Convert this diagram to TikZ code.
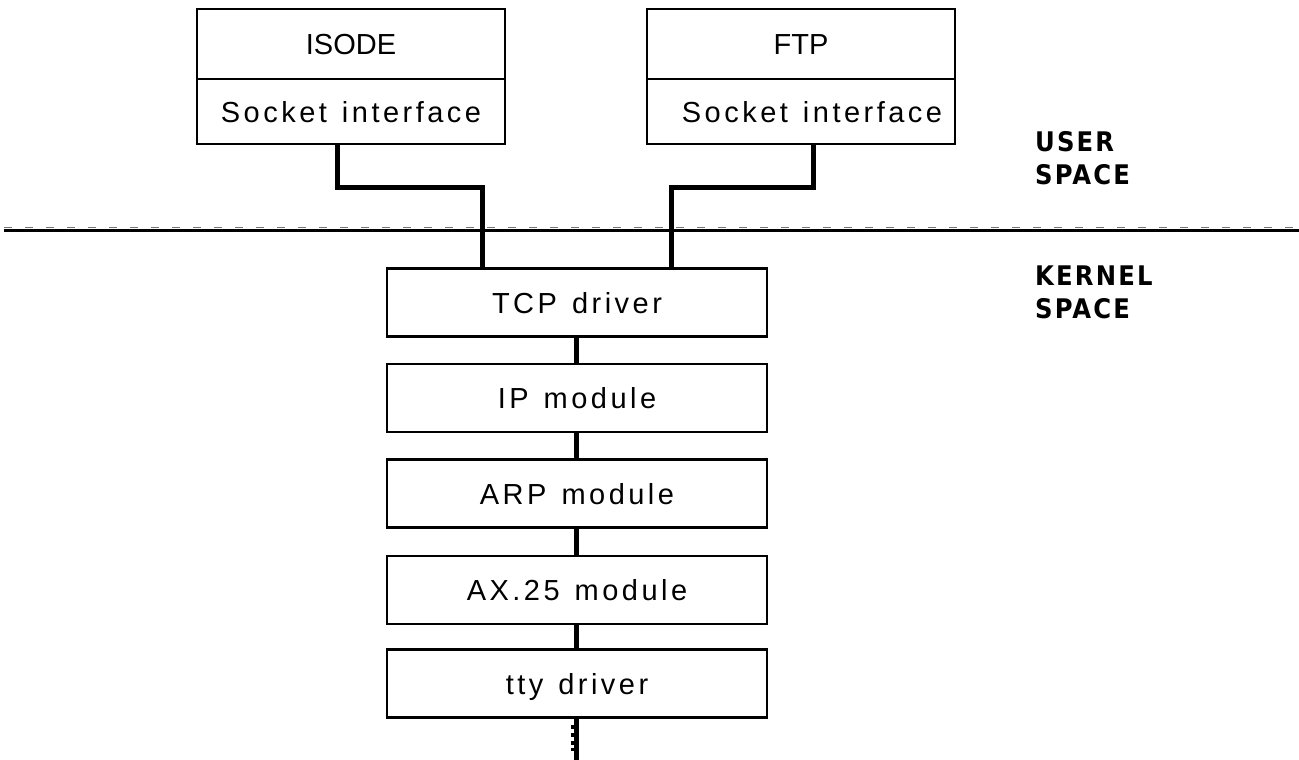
\documentclass[tikz,border=0pt]{standalone}
\usepackage{fontspec}
\setmainfont{Liberation Sans}
\newfontfamily\spacedfont[LetterSpace=12,WordSpace=1.3]{Liberation Sans}
\newfontfamily\labelfont[LetterSpace=8]{DejaVu Sans Condensed}
\begin{document}
\begin{tikzpicture}[x=1pt,y=-1pt,
  modbox/.style={draw=black, line width=2.3pt, rectangle, inner sep=0pt,
    minimum width=380pt, minimum height=68pt, text height=21pt, text depth=0pt,
    font=\spacedfont\fontsize{29}{34}\selectfont},
  apptop/.style={draw=black, line width=2.3pt, rectangle, inner sep=0pt,
    minimum width=308pt, minimum height=70pt, text height=21pt, text depth=0pt,
    font=\fontsize{29}{34}\selectfont},
  appsock/.style={draw=black, line width=2.3pt, rectangle, inner sep=0pt,
    minimum width=308pt, minimum height=65pt, text height=21pt, text depth=0pt,
    font=\spacedfont\fontsize{29}{34}\selectfont},
  conn/.style={draw=black, line width=5pt},
  spacelbl/.style={anchor=north west, align=left, inner sep=0pt,
    font=\labelfont\bfseries\fontsize{27}{33}\selectfont},
  tickmark/.style={fill=black, draw=none}
]
\useasboundingbox (0,0) rectangle (1299,760);

% separator between user and kernel space
\coordinate (sepL) at (4,230);
\coordinate (sepR) at (1299,230);
\coordinate (sepLd) at (4,227.5);
\coordinate (sepRd) at (1299,227.5);
\draw[black, line width=3pt] (sepL) -- (sepR);
\draw[black!55, line width=1.5pt, dash pattern=on 8pt off 13pt] (sepLd) -- (sepRd);

% application boxes
\node[apptop] (isode) at (351,44) {ISODE};
\node[appsock] (isodesock) at (351,111.5) {Socket interface};
\node[apptop] (ftp) at (801,44) {FTP};
\node[appsock] (ftpsock) at (801,111.5) {\hspace*{22pt}Socket interface};

% kernel modules
\node[modbox] (tcp) at (577,302.5) {TCP driver};
\node[modbox] (ip) at (577,398) {IP module};
\node[modbox] (arp) at (577,493.5) {ARP module};
\node[modbox] (ax) at (577,590) {AX.25 module};
\node[modbox] (tty) at (577,683.5) {tty driver};

% connectors
\draw[conn] ([xshift=-14pt]isodesock.south) -- ++(0,42) -| ([xshift=-95pt]tcp.north);
\draw[conn] ([xshift=12pt]ftpsock.south) -- ++(0,42) -| ([xshift=94pt]tcp.north);
\draw[conn] ([xshift=-1pt]tcp.south) -- ([xshift=-1pt]ip.north);
\draw[conn] ([xshift=-1pt]ip.south) -- ([xshift=-1pt]arp.north);
\draw[conn] ([xshift=-1pt]arp.south) -- ([xshift=-1pt]ax.north);
\draw[conn] ([xshift=-1pt]ax.south) -- ([xshift=-1pt]tty.north);
\coordinate (ttyend) at (576,760);
\draw[conn] ([xshift=-1pt]tty.south) -- (ttyend);
\fill[tickmark] (571,724.5) rectangle (575,728.5);
\fill[tickmark] (571,732.5) rectangle (575,736.5);
\fill[tickmark] (571,741) rectangle (575,745);
\fill[tickmark] (571,748) rectangle (575,751);

% space labels
\node[spacelbl] (userlbl) at (1035,131) {USER\\SPACE};
\node[spacelbl] (kernellbl) at (1035,266) {KERNEL\\SPACE};
\end{tikzpicture}
\end{document}
